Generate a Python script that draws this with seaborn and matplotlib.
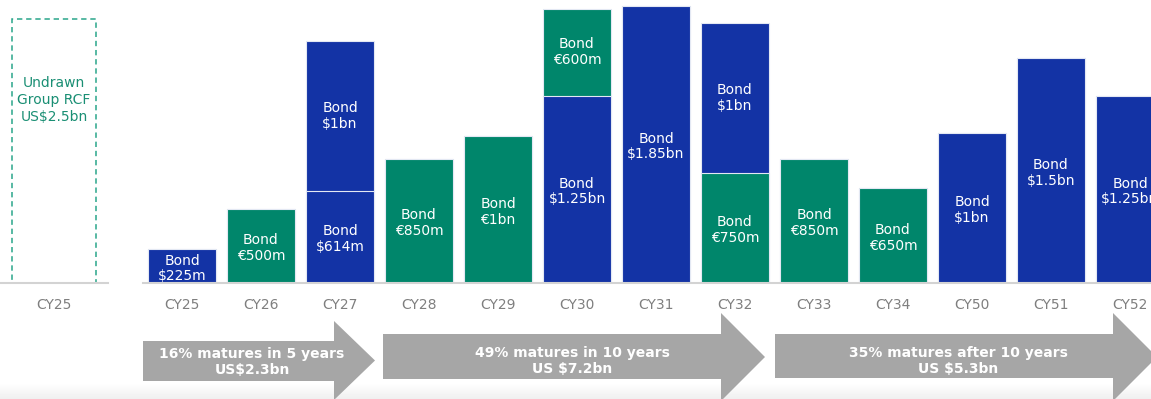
import matplotlib
matplotlib.use("Agg")
import matplotlib.pyplot as plt
import numpy as np
import pandas as pd
import seaborn as sns
from matplotlib.patches import Polygon

# ---------------- data ----------------
years = ["CY25", "CY26", "CY27", "CY28", "CY29", "CY30", "CY31",
         "CY32", "CY33", "CY34", "CY50", "CY51", "CY52"]
# bottom segment (USD m equivalent, as drawn)
bottom_vals = [225, 493, 614, 827, 980, 1250, 1850, 733, 827, 633, 1000, 1500, 1250]
bottom_cur = ["USD", "EUR", "USD", "EUR", "EUR", "USD", "USD", "EUR", "EUR", "EUR", "USD", "USD", "USD"]
bottom_lbl = ["Bond\n$225m", "Bond\n€500m", "Bond\n$614m", "Bond\n€850m", "Bond\n€1bn",
              "Bond\n$1.25bn", "Bond\n$1.85bn", "Bond\n€750m", "Bond\n€850m", "Bond\n€650m",
              "Bond\n$1bn", "Bond\n$1.5bn", "Bond\n$1.25bn"]
# top segment
top_vals = [0, 0, 1000, 0, 0, 580, 0, 1000, 0, 0, 0, 0, 0]
top_cur = ["USD", "EUR", "USD", "EUR", "EUR", "EUR", "USD", "USD", "EUR", "EUR", "USD", "USD", "USD"]
top_lbl = ["", "", "Bond\n$1bn", "", "", "Bond\n€600m", "", "Bond\n$1bn", "", "", "", "", ""]

rcf_label = ["CY25"]
rcf_value = [2500]
rcf_text = "Undrawn\nGroup RCF\nUS$2.5bn"

arrow_text = ["16% matures in 5 years\nUS$2.3bn",
              "49% matures in 10 years\nUS $7.2bn",
              "35% matures after 10 years\nUS $5.3bn"]

BLUE = "#1333a5"
GREEN = "#00866b"
palette = {"USD": BLUE, "EUR": GREEN}

df = pd.DataFrame({
    "year": years,
    "bottom": bottom_vals,
    "top": top_vals,
    "total": np.array(bottom_vals) + np.array(top_vals),
    "bcur": bottom_cur,
    "tcur": top_cur,
})

sns.set_theme(style="white")
plt.rcParams["font.family"] = ["DejaVu Sans"]

W, H = 1151, 399
fig = plt.figure(figsize=(W / 100, H / 100), dpi=100)

# background gradient at the bottom
bg = fig.add_axes([0, 0, 1, 1], zorder=0)
grad = np.ones((H, 1))
for i in range(H):
    if i > 383:
        grad[i, 0] = 1 - 0.06 * (i - 383) / 15
bg.imshow(np.repeat(grad, 10, axis=1), cmap="gray", vmin=0, vmax=1,
          aspect="auto", extent=[0, W, H, 0])
bg.set_xlim(0, W)
bg.set_ylim(H, 0)
bg.axis("off")

# ---------------- left panel (RCF) ----------------
axl = fig.add_axes([0, 116 / H, 108 / W, 283 / H], zorder=2)
axl.patch.set_alpha(0)
rdf = pd.DataFrame({"year": rcf_label, "value": rcf_value})
sns.barplot(data=rdf, x="year", y="value", ax=axl, width=0.787,
            facecolor="none", edgecolor="#2aa58a", linewidth=1.1,
            linestyle=(0, (3.5, 2.5)), errorbar=None)
axl.set_xlim(-0.5, 0.5)
axl.set_ylim(0, 2500 * 283 / 264)
axl.text(0, 2500 * 283 / 264 * (283 - 100) / 283, rcf_text, ha="center", va="center",
         color="#1a8f74", fontsize=10, linespacing=1.25)
axl.set_xlabel("")
axl.set_ylabel("")
axl.set_yticks([])
axl.tick_params(axis="x", length=0, pad=11, labelsize=10, labelcolor="#7f7f7f")
for s in ["top", "right", "left"]:
    axl.spines[s].set_visible(False)
axl.spines["bottom"].set_color("#d3d3d3")
axl.spines["bottom"].set_linewidth(1.5)

# ---------------- main panel ----------------
ax = fig.add_axes([142.5 / W, 116 / H, (W - 142.5) / W, 283 / H], zorder=2)
ax.patch.set_alpha(0)
sns.barplot(data=df, x="year", y="total", hue="tcur", palette=palette, order=years,
            dodge=False, width=0.86, edgecolor="#e3e8f3", linewidth=0.8, saturation=1,
            errorbar=None, legend=False, ax=ax)
sns.barplot(data=df, x="year", y="bottom", hue="bcur", palette=palette, order=years,
            dodge=False, width=0.86, edgecolor="#e3e8f3", linewidth=0.8, saturation=1,
            errorbar=None, legend=False, ax=ax)
ymax = 283 / 0.15
ax.set_ylim(0, ymax)
ax.set_xlim(-0.5, (W - 182) / 79)
ax.set_xlabel("")
ax.set_ylabel("")
ax.set_yticks([])
ax.tick_params(axis="x", length=0, pad=11, labelsize=10, labelcolor="#7f7f7f")
for s in ["top", "right", "left"]:
    ax.spines[s].set_visible(False)
ax.spines["bottom"].set_color("#d3d3d3")
ax.spines["bottom"].set_linewidth(1.5)

for i, (b, t) in enumerate(zip(bottom_vals, top_vals)):
    ax.text(i, b / 2 - 15, bottom_lbl[i], ha="center", va="center", color="white",
            fontsize=10, linespacing=1.15)
    if t > 0:
        ax.text(i, b + t / 2, top_lbl[i], ha="center", va="center", color="white",
                fontsize=10, linespacing=1.15)

# ---------------- arrows ----------------
ov = fig.add_axes([0, 0, 1, 1], zorder=3)
ov.patch.set_alpha(0)
ov.set_xlim(0, W)
ov.set_ylim(H, 0)
ov.axis("off")

arrows = [
    # x0, body_end, tip, body_top, body_bottom, head_top, head_bottom, text_x, text_y
    (143, 334, 375, 341, 381, 321, 400, 252, 362),
    (383, 721, 765, 334, 379, 313, 401, 572, 361),
    (775, 1113, 1157, 334, 378, 313, 401, 958, 361),
]
for (x0, xb, xt, bt, bb, ht, hb, tx, ty), txt in zip(arrows, arrow_text):
    mid = (ht + hb) / 2
    poly = Polygon([(x0, bt), (xb, bt), (xb, ht), (xt, mid), (xb, hb), (xb, bb), (x0, bb)],
                   closed=True, facecolor="#a6a6a6", edgecolor="none")
    ov.add_patch(poly)
    ov.text(tx, ty, txt, ha="center", va="center", color="white",
            fontsize=10, fontweight="bold", linespacing=1.2)

fig.savefig("out.png", dpi=100)
